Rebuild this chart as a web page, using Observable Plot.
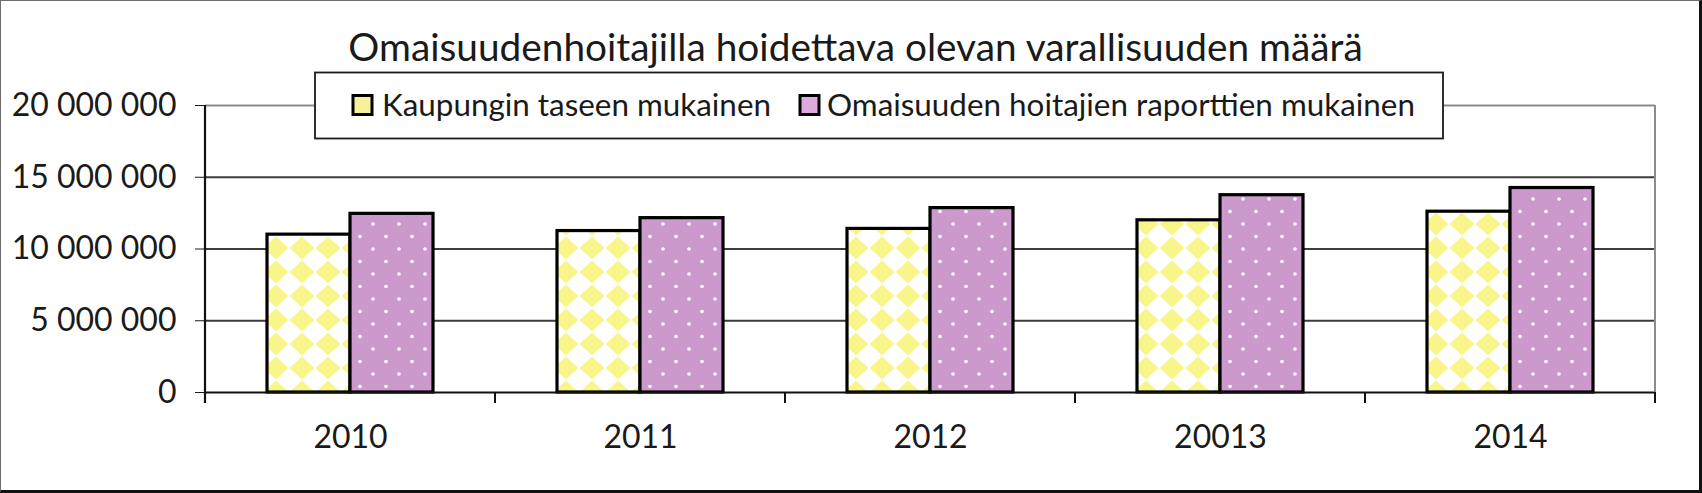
<!DOCTYPE html>
<html>
<head>
<meta charset="utf-8">
<script src="https://cdn.jsdelivr.net/npm/d3@7"></script>
<script src="https://cdn.jsdelivr.net/npm/@observablehq/plot@0.6"></script>
<style>
  body { margin: 0; background: #fff; }
  #wrap {
    position: relative; width: 1702px; height: 493px; box-sizing: border-box;
    border-top: 1px solid #6e6e6e; border-left: 1px solid #6e6e6e;
    border-right: 3px solid #111; border-bottom: 3px solid #111;
    background: #fff; overflow: hidden; font-family: Lato, sans-serif;
  }
  #chart { position: absolute; left: 0; top: 67px; }
  #overlay { position: absolute; left: 0; top: 0; pointer-events: none; }
</style>
</head>
<body>
<svg width="0" height="0" style="position:absolute">
  <defs>
    <pattern id="patYellow" patternUnits="userSpaceOnUse" width="26" height="24">
      <rect width="26" height="24" fill="#ffffff"/>
      <polygon points="13,0.6 25.4,12 13,23.4 0.6,12" fill="#f8f68a"/>
    </pattern>
    <pattern id="patPurple" patternUnits="userSpaceOnUse" width="26" height="25">
      <rect width="26" height="25" fill="#cc99cc"/>
      <circle cx="6" cy="6" r="1.8" fill="#ffffff"/>
      <circle cx="19" cy="18.5" r="1.8" fill="#ffffff"/>
    </pattern>
  </defs>
</svg>
<div id="wrap">
  <div id="chart"></div>
  <svg id="overlay" width="1698" height="489"></svg>
</div>
<script>
// ---- data ----
const title = "Omaisuudenhoitajilla hoidettava olevan varallisuuden määrä";
const years = ["2010", "2011", "2012", "20013", "2014"];
const seriesNames = ["Kaupungin taseen mukainen", "Omaisuuden hoitajien raporttien mukainen"];
const kaupunginTase = [11000000, 11250000, 11400000, 12000000, 12600000];
const hoitajienRaportit = [12450000, 12150000, 12850000, 13750000, 14250000];
const yTicks = [0, 5000000, 10000000, 15000000, 20000000];
const seriesFills = ["url(#patYellow)", "url(#patPurple)"];
const legendSwatchColors = ["#f6f29c", "#dcaadc"];

const rows = years.flatMap((year, i) => [
  {year, series: seriesNames[0], value: kaupunginTase[i]},
  {year, series: seriesNames[1], value: hoitajienRaportit[i]}
]);

const fmt = v => d3.format(",")(v).replace(/,/g, " ");

const W = 1698, H = 422;
const mL = 202, mR = 42, mT = 37, mB = 98;

const chart = Plot.plot({
  width: W, height: H,
  marginLeft: mL, marginRight: mR, marginTop: mT, marginBottom: mB,
  style: {fontFamily: "Lato, sans-serif", fontSize: "32px", color: "#1a1a1a", background: "transparent", overflow: "visible"},
  fx: {domain: years, padding: 0, label: null, axis: "bottom", tickSize: 0, tickPadding: 33},
  x: {domain: seriesNames, paddingInner: 0, paddingOuter: 0.741, axis: null},
  y: {domain: [0, 20000000], ticks: yTicks, tickFormat: fmt, tickSize: 10, tickPadding: 19, label: null},
  color: {domain: seriesNames, range: seriesFills},
  marks: [
    Plot.ruleY(yTicks.filter(v => v > 0 && v < 20000000), {stroke: "#3c3c3c", strokeWidth: 2}),
    Plot.ruleY([20000000], {stroke: "#8c8c8c", strokeWidth: 2}),
    Plot.barY(rows, {fx: "year", x: "series", y: "value", fill: "series", stroke: "#000", strokeWidth: 3.2}),
    Plot.ruleY([0], {stroke: "#111", strokeWidth: 2.2})
  ]
});
document.getElementById("chart").appendChild(chart);

// axis line, category boundary ticks and right frame line, from the chart's scales
const ys = chart.scale("y");
let fxs = null;
try { fxs = chart.scale("fx"); } catch (e) { fxs = null; }
const bw = fxs && fxs.bandwidth ? fxs.bandwidth : (W - mL - mR) / years.length;
const left = (k) => fxs && fxs.apply ? fxs.apply(k) : mL + years.indexOf(k) * bw;
const y0 = ys.apply(0), yTop = ys.apply(20000000);
const g = d3.select(chart).append("g");
const bounds = years.map(left).concat([left(years[years.length - 1]) + bw]);
// right gray frame
g.append("line").attr("x1", bounds[bounds.length - 1]).attr("x2", bounds[bounds.length - 1])
  .attr("y1", yTop).attr("y2", y0).attr("stroke", "#8c8c8c").attr("stroke-width", 2);
// y axis line
g.append("line").attr("x1", bounds[0]).attr("x2", bounds[0])
  .attr("y1", yTop).attr("y2", y0 + 11).attr("stroke", "#111").attr("stroke-width", 2.2);
bounds.slice(1).forEach(b => {
  g.append("line").attr("x1", b).attr("x2", b).attr("y1", y0).attr("y2", y0 + 11)
    .attr("stroke", "#111").attr("stroke-width", 2);
});

// title + legend overlay
const ov = d3.select("#overlay");
ov.append("text").attr("x", 854.5).attr("y", 60).attr("text-anchor", "middle")
  .attr("font-family", "Lato, sans-serif").attr("font-size", 38.8).attr("fill", "#1a1a1a").text(title);
const lg = ov.append("g");
lg.append("rect").attr("x", 314).attr("y", 71.5).attr("width", 1128).attr("height", 66)
  .attr("fill", "#fff").attr("stroke", "#1a1a1a").attr("stroke-width", 1.8);
const legendX = [352, 799];
const legendTextGap = [29, 27];
seriesNames.forEach((s, i) => {
  lg.append("rect").attr("x", legendX[i]).attr("y", 94.5).attr("width", 19).attr("height", 19)
    .attr("fill", legendSwatchColors[i]).attr("stroke", "#000").attr("stroke-width", 3);
  lg.append("text").attr("x", legendX[i] + legendTextGap[i]).attr("y", 115).attr("font-family", "Lato, sans-serif")
    .attr("font-size", 31.4).attr("fill", "#1a1a1a").text(s);
});
</script>
</body>
</html>
